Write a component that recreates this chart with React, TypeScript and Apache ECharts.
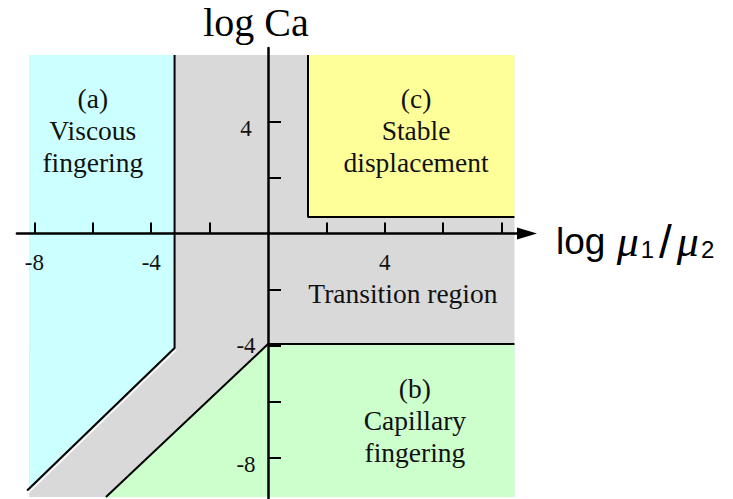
import React, { useEffect, useRef } from "react";
import * as echarts from "echarts";

// Axis ticks and labelled values
const xTickValues = [-8, -6, -4, -2, 2, 4, 6, 8];
const xLabelValues = [-8, -4, 4];
const yTickValues = [-8, -6, -4, -2, 2, 4];
const yLabelValues = [-8, -4, 4];

// Regime areas in (log M, log Ca) coordinates
const transitionArea = [[-8.18, 6.375], [8.44, 6.375], [8.44, -9.41], [-8.18, -9.41]];
const viscousArea = [[-8.18, 6.375], [-3.2, 6.375], [-3.2, -4.09], [-8.18, -9.11]];
const stableArea = [[1.37, 6.375], [8.44, 6.375], [8.44, 0.59], [1.37, 0.59]];
const capillaryArea = [[0, -3.95], [8.44, -3.95], [8.44, -9.41], [-5.55, -9.41]];

// Boundaries between the regimes
const viscousBoundary = [[-3.2, 6.375], [-3.2, -4.09], [-8.25, -9.18]];
const stableBoundary = [[1.37, 6.375], [1.37, 0.59], [8.44, 0.59]];
const capillaryBoundary = [[8.44, -3.95], [0, -3.95], [-5.55, -9.41]];

// Regime names and where they sit
const regionNames = [
  "(a)\nViscous\nfingering",
  "(c)\nStable\ndisplacement",
  "Transition region",
  "(b)\nCapillary\nfingering",
];
const regionLabelX = [-6.0, 5.07, 4.62, 5.03];
const regionLabelY = [3.67, 3.67, -2.15, -6.69];

const areaList = [transitionArea, viscousArea, stableArea, capillaryArea];
const areaColors = ["#d9d9d9", "#ccffff", "#ffff99", "#ccffcc"];

const SERIF = "'Liberation Serif', 'Times New Roman', serif";
const SANS = "'Liberation Sans', Arial, sans-serif";

// plot frame (pixels) and axis ranges
const GRID_LEFT = 16.9;
const GRID_TOP = 48;
const GRID_W = 510.1;
const GRID_H = 454.3;
const X_MIN = -8.6;
const X_MAX = 8.87;
const Y_MIN = -9.6;
const Y_MAX = 6.625;

export default function App() {
  const ref = useRef<HTMLDivElement>(null);

  useEffect(() => {
    if (!ref.current) return;
    const chart = echarts.init(ref.current, undefined, { renderer: "svg" });

    // axes cross at the origin: shift them in from the frame edges
    const yAxisShift = -(GRID_W * (0 - X_MIN)) / (X_MAX - X_MIN);
    const xAxisShift = -(GRID_H * (0 - Y_MIN)) / (Y_MAX - Y_MIN);

    const boundaryLine = (data: number[][]) => ({
      type: "line",
      data,
      symbol: "none",
      silent: true,
      z: 4,
      lineStyle: { color: "#000", width: 2 },
    });

    chart.setOption({
      animation: false,
      backgroundColor: "#ffffff",
      grid: {
        left: GRID_LEFT,
        top: GRID_TOP,
        width: GRID_W,
        height: GRID_H,
        outerBoundsMode: "none",
        containLabel: false,
      },
      xAxis: {
        type: "value",
        min: X_MIN,
        max: X_MAX,
        position: "bottom",
        offset: xAxisShift,
        z: 10,
        name: "{a|log }{m|μ}{s|1}{sl|/}{m|μ}{s|2}",
        nameLocation: "end",
        nameGap: 29,
        nameTextStyle: {
          padding: [16, 0, 0, 0],
          rich: {
            a: { fontFamily: SANS, fontSize: 37, lineHeight: 40, color: "#000" },
            m: { fontFamily: SERIF, fontStyle: "italic", fontSize: 44, lineHeight: 40, color: "#000", padding: [0, 2, 0, 1] },
            s: { fontFamily: SANS, fontSize: 24, lineHeight: 4, verticalAlign: "bottom", color: "#000" },
            sl: { fontFamily: SANS, fontSize: 46, lineHeight: 40, color: "#000", padding: [0, 4, 0, 5] },
          },
        },
        splitLine: { show: false },
        axisLine: {
          show: true,
          onZero: false,
          symbol: ["none", "triangle"],
          symbolSize: [12, 20],
          lineStyle: { color: "#000", width: 2.5 },
        },
        axisTick: {
          show: true,
          inside: true,
          length: 11,
          customValues: xTickValues,
          lineStyle: { color: "#000", width: 2 },
        },
        axisLabel: {
          show: true,
          customValues: xLabelValues,
          margin: 17,
          fontFamily: SERIF,
          fontSize: 23,
          color: "#111",
        },
      },
      yAxis: {
        type: "value",
        min: Y_MIN,
        max: Y_MAX,
        position: "left",
        offset: yAxisShift,
        z: 10,
        name: "log Ca",
        nameLocation: "end",
        nameGap: 6,
        nameTextStyle: {
          fontFamily: SERIF,
          fontSize: 40,
          color: "#000",
          padding: [0, 24, 0, 0],
        },
        splitLine: { show: false },
        axisLine: {
          show: true,
          onZero: false,
          lineStyle: { color: "#000", width: 2.5 },
        },
        axisTick: {
          show: true,
          inside: true,
          length: 13,
          customValues: yTickValues,
          lineStyle: { color: "#000", width: 2 },
        },
        axisLabel: {
          show: true,
          customValues: yLabelValues,
          margin: 22,
          align: "center",
          fontFamily: SERIF,
          fontSize: 23,
          color: "#111",
          formatter: (v: number) => (v === -4 ? `{c|${v}}` : `{d|${v}}`),
          rich: {
            c: { fontFamily: SERIF, fontSize: 23, color: "#111" },
            d: { fontFamily: SERIF, fontSize: 23, color: "#111", padding: [14, 0, 0, 0] },
          },
        },
      },
      series: [
        {
          type: "custom",
          silent: true,
          z: 1,
          data: areaList.map((_, i) => [i, 0]),
          renderItem: (params: any, api: any) => {
            const i = params.dataIndex;
            const pts = areaList[i].map((p) => api.coord(p));
            return {
              type: "polygon",
              shape: { points: pts },
              style: { fill: areaColors[i] },
            };
          },
        },
        // thin light edge along the lower side of the slanted viscous boundary
        {
          type: "custom",
          silent: true,
          z: 3,
          data: [[0, 0]],
          renderItem: (_params: any, api: any) => {
            const pts = viscousBoundary.slice(1).map((p) => {
              const [px, py] = api.coord(p);
              return [px + 1.7, py + 1.7];
            });
            return {
              type: "polyline",
              shape: { points: pts },
              style: { stroke: "#ffffff", lineWidth: 1.4, fill: null },
            };
          },
        },
        boundaryLine(viscousBoundary),
        boundaryLine(stableBoundary),
        boundaryLine(capillaryBoundary),
        {
          type: "custom",
          silent: true,
          z: 5,
          data: regionNames.map((_, i) => [regionLabelX[i], regionLabelY[i]]),
          renderItem: (params: any, api: any) => {
            const i = params.dataIndex;
            const [x, y] = api.coord([regionLabelX[i], regionLabelY[i]]);
            return {
              type: "text",
              x,
              y,
              style: {
                text: regionNames[i],
                fill: "#111",
                fontFamily: SERIF,
                fontSize: 27.5,
                lineHeight: 32,
                align: "center",
                verticalAlign: "middle",
              },
            };
          },
        },
      ],
    });

    return () => chart.dispose();
  }, []);

  return (
    <div
      ref={ref}
      style={{ position: "fixed", left: 0, top: 0, width: 733, height: 499, background: "#fff" }}
    />
  );
}
